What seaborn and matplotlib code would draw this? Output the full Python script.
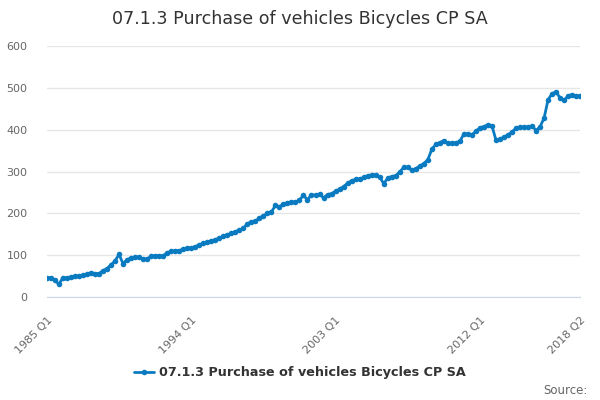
import numpy as np
import pandas as pd
import seaborn as sns
import matplotlib
matplotlib.use("Agg")
import matplotlib.pyplot as plt
from matplotlib.lines import Line2D

# Quarterly series, 1985 Q1 .. 2018 Q2
series_name = "07.1.3 Purchase of vehicles Bicycles CP SA"
values = [
    46, 46, 41, 30, 46, 45, 48, 50, 50, 52, 55, 58, 56, 56, 63, 68, 77, 86, 102, 80,
    89, 94, 95, 95, 91, 91, 97, 99, 99, 98, 106, 109, 110, 111, 114, 117, 118, 120, 125, 128,
    131, 134, 137, 141, 145, 149, 152, 156, 160, 164, 175, 180, 181, 189, 194, 200, 203, 219, 216, 222,
    224, 228, 226, 232, 243, 232, 245, 243, 246, 237, 245, 247, 253, 258, 264, 272, 278, 281, 282, 286,
    290, 292, 291, 287, 271, 284, 288, 290, 299, 310, 310, 303, 307, 313, 319, 328, 353, 365, 369, 374,
    367, 368, 369, 372, 390, 390, 388, 396, 405, 407, 412, 409, 375, 378, 382, 388, 394, 404, 406, 406,
    406, 409, 398, 407, 428, 472, 486, 491, 475, 470, 481, 484, 480, 481,
]
quarters = [str(p).replace("Q", " Q") for p in pd.period_range("1985Q1", "2018Q2", freq="Q")]
tick_labels = ["1985 Q1", "1994 Q1", "2003 Q1", "2012 Q1", "2018 Q2"]
y_ticks = [0, 100, 200, 300, 400, 500, 600]

df = pd.DataFrame({"quarter": quarters, "value": values})
df["pos"] = range(len(df))

line_col = "#0b7bc1"

sns.set_style("white")
plt.rcParams["font.family"] = ["DejaVu Sans"]

fig = plt.figure(figsize=(6, 4), dpi=100)
ax = fig.add_axes([0.078, 0.2575, 0.889, 0.6275])

sns.lineplot(data=df, x="pos", y="value", ax=ax, color=line_col, linewidth=2,
             marker="o", markersize=4, markeredgewidth=0, legend=False)

ax.set_xlim(0, len(df) - 1)
ax.set_ylim(0, 600)
ax.set_yticks(y_ticks)
ax.set_yticklabels([str(v) for v in y_ticks], color="#666666", fontsize=8)
ax.yaxis.grid(True, color="#e6e6e6", linewidth=1)
ax.tick_params(axis="y", length=0, pad=14)

tick_pos = list(range(0, len(df), 9)) + [len(df) - 1]
labels = []
for p in tick_pos:
    q = quarters[p]
    labels.append(q if q in tick_labels else "")
ax.set_xticks(tick_pos)
ax.set_xticklabels(labels, rotation=45, ha="right", rotation_mode="anchor",
                   color="#666666", fontsize=8)
ax.tick_params(axis="x", length=10, width=1, color="#ccd6eb", direction="out", pad=3)

for s in ["top", "right", "left"]:
    ax.spines[s].set_visible(False)
ax.spines["bottom"].set_color("#ccd6eb")
ax.set_xlabel("")
ax.set_ylabel("")

fig.text(0.5, 0.953, series_name, ha="center", va="center", fontsize=12.6, color="#333333")

handle = Line2D([], [], color=line_col, linewidth=2, marker="o", markersize=4,
                markeredgewidth=0)
fig.legend([handle], [series_name], loc="center", bbox_to_anchor=(0.5, 0.068),
           frameon=False, handlelength=1.6, handletextpad=0.4,
           prop={"size": 9.2, "weight": "bold"}, labelcolor="#333333")

fig.text(0.98, 0.025, "Source:", ha="right", va="center", fontsize=8.5, color="#666666")

fig.savefig("out.png", dpi=100)
